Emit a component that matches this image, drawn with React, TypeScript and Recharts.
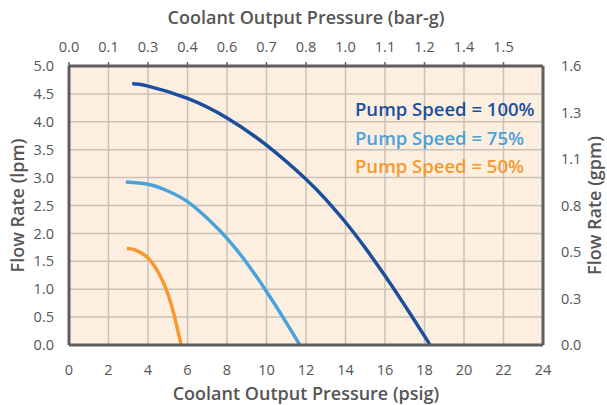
import React from 'react';
import { LineChart, Line, XAxis, YAxis, CartesianGrid, Legend } from 'recharts';

// Pressure (psig) / flow (lpm) pairs
const psig100 = [3.2, 4, 6, 8, 10, 12, 13, 14, 15, 16, 17, 18, 18.28];
const lpm100 = [4.68, 4.64, 4.42, 4.07, 3.58, 2.97, 2.61, 2.2, 1.74, 1.24, 0.71, 0.16, 0];
const psig75 = [2.88, 4, 5, 6, 7, 8, 9, 10, 10.83, 11.69];
const lpm75 = [2.92, 2.88, 2.76, 2.57, 2.27, 1.91, 1.47, 0.96, 0.5, 0];
const psig50 = [2.93, 3.3, 3.7, 4, 4.3, 4.6, 4.9, 5.2, 5.45, 5.68];
const lpm50 = [1.73, 1.71, 1.64, 1.56, 1.43, 1.25, 1.02, 0.7, 0.35, 0];

const seriesNames = ['Pump Speed = 100%', 'Pump Speed = 75%', 'Pump Speed = 50%'];

const psigTicks = [0, 2, 4, 6, 8, 10, 12, 14, 16, 18, 20, 22, 24];
const barTickLabels = ['0.0', '0.1', '0.3', '0.4', '0.6', '0.7', '0.8', '1.0', '1.1', '1.2', '1.4', '1.5'];
const lpmTicks = [0, 0.5, 1, 1.5, 2, 2.5, 3, 3.5, 4, 4.5, 5];
const gpmMax = 1.6;
const gpmTickLabels = ['0.0', '0.3', '0.5', '0.8', '1.1', '1.3', '1.6'];

const toPoints = (xs: number[], ys: number[]) => xs.map((x, i) => ({ psig: x, lpm: ys[i] }));
const data100 = toPoints(psig100, lpm100);
const data75 = toPoints(psig75, lpm75);
const data50 = toPoints(psig50, lpm50);

const FONT = '"Open Sans", sans-serif';
const TEXT = '#555555';
const FRAME = '#5f5f5f';

const tickStyle = { fill: TEXT, fontSize: 14.5, fontFamily: FONT };
const titleStyle: React.CSSProperties = { fill: TEXT, fontSize: 18, fontFamily: FONT, fontWeight: 600 };

const gpmTicks = gpmTickLabels.map((_, i) => (gpmMax * i) / 6);

const LegendContent = (props: any) => {
  const payload = [...(props.payload || [])]
    .filter((p: any) => seriesNames.indexOf(p.value) >= 0)
    .sort((a: any, b: any) => seriesNames.indexOf(a.value) - seriesNames.indexOf(b.value));
  return (
    <div style={{ fontFamily: FONT, fontWeight: 600, fontSize: 18.5, lineHeight: '28.5px' }}>
      {payload.map((p: any) => (
        <div key={p.value} style={{ color: p.color, whiteSpace: 'nowrap' }}>{p.value}</div>
      ))}
    </div>
  );
};

export default function App() {
  return (
    <div style={{ position: 'absolute', left: 0, top: 0 }}>
      <LineChart width={607} height={405} margin={{ top: 0, right: 0, bottom: 0, left: 0 }}>
        <CartesianGrid
          xAxisId="psig"
          yAxisId="lpm"
          stroke="#c9c1b8"
          strokeWidth={1.5}
          fill="#fdefe0"
          fillOpacity={1}
        />
        <XAxis
          xAxisId="psig"
          type="number"
          dataKey="psig"
          domain={[0, 24]}
          ticks={psigTicks}
          interval={0}
          height={60}
          allowDataOverflow
          axisLine={{ stroke: FRAME, strokeWidth: 3 }}
          tickLine={false}
          tickMargin={14}
          tick={tickStyle}
          label={{
            content: (p: any) => (
              <text x={p.viewBox.x + p.viewBox.width / 2} y={400} textAnchor="middle" style={titleStyle}>
                Coolant Output Pressure (psig)
              </text>
            ),
          }}
        />
        <XAxis
          xAxisId="bar"
          orientation="top"
          type="number"
          dataKey="psig"
          domain={[0, 24]}
          allowDataOverflow
          ticks={psigTicks.slice(0, barTickLabels.length)}
          interval={0}
          height={66}
          axisLine={{ stroke: FRAME, strokeWidth: 3 }}
          tickLine={{ stroke: FRAME, strokeWidth: 1.5 }}
          tickSize={4}
          tickMargin={10}
          tick={tickStyle}
          tickFormatter={(v: number) => barTickLabels[psigTicks.indexOf(v)] ?? ''}
          label={{
            content: (p: any) => (
              <text x={p.viewBox.x + p.viewBox.width / 2} y={24} textAnchor="middle" style={titleStyle}>
                Coolant Output Pressure (bar-g)
              </text>
            ),
          }}
        />
        <YAxis
          yAxisId="lpm"
          type="number"
          domain={[0, 5]}
          allowDataOverflow
          ticks={lpmTicks}
          interval={0}
          width={69}
          axisLine={{ stroke: FRAME, strokeWidth: 3 }}
          tickLine={false}
          tickMargin={9}
          tick={tickStyle}
          tickFormatter={(v: number) => v.toFixed(1)}
          label={{
            content: (p: any) => {
              const cx = 17;
              const cy = p.viewBox.y + p.viewBox.height / 2;
              return (
                <text x={cx} y={cy} transform={`rotate(-90, ${cx}, ${cy})`} textAnchor="middle" dominantBaseline="central" style={titleStyle}>
                  Flow Rate (lpm)
                </text>
              );
            },
          }}
        />
        <YAxis
          yAxisId="gpm"
          orientation="right"
          type="number"
          domain={[0, gpmMax]}
          allowDataOverflow
          ticks={gpmTicks}
          interval={0}
          width={64}
          axisLine={{ stroke: FRAME, strokeWidth: 3 }}
          tickLine={false}
          tickMargin={12}
          tick={tickStyle}
          tickFormatter={(v: number) => gpmTickLabels[Math.round((v / gpmMax) * 6)]}
          label={{
            content: (p: any) => {
              const cx = 594;
              const cy = p.viewBox.y + p.viewBox.height / 2;
              return (
                <text x={cx} y={cy} transform={`rotate(-90, ${cx}, ${cy})`} textAnchor="middle" dominantBaseline="central" style={titleStyle}>
                  Flow Rate (gpm)
                </text>
              );
            },
          }}
        />
        <Line xAxisId="bar" yAxisId="lpm" data={data100} dataKey="lpm" name={seriesNames[0]} type="natural" stroke="#1b4f9e" strokeWidth={3.5} dot={false} isAnimationActive={false} />
        <Line xAxisId="psig" yAxisId="lpm" data={data75} dataKey="lpm" name={seriesNames[1]} type="natural" stroke="#4aa2da" strokeWidth={3.5} dot={false} isAnimationActive={false} />
        <Line xAxisId="psig" yAxisId="lpm" data={data50} dataKey="lpm" name={seriesNames[2]} type="natural" stroke="#f7982f" strokeWidth={3.5} dot={false} isAnimationActive={false} />
        <Legend
          layout="vertical"
          align="center"
          verticalAlign="middle"
          content={<LegendContent />}
          wrapperStyle={{ left: 355, top: 95, width: 'auto', height: 'auto' }}
        />
      </LineChart>
    </div>
  );
}
